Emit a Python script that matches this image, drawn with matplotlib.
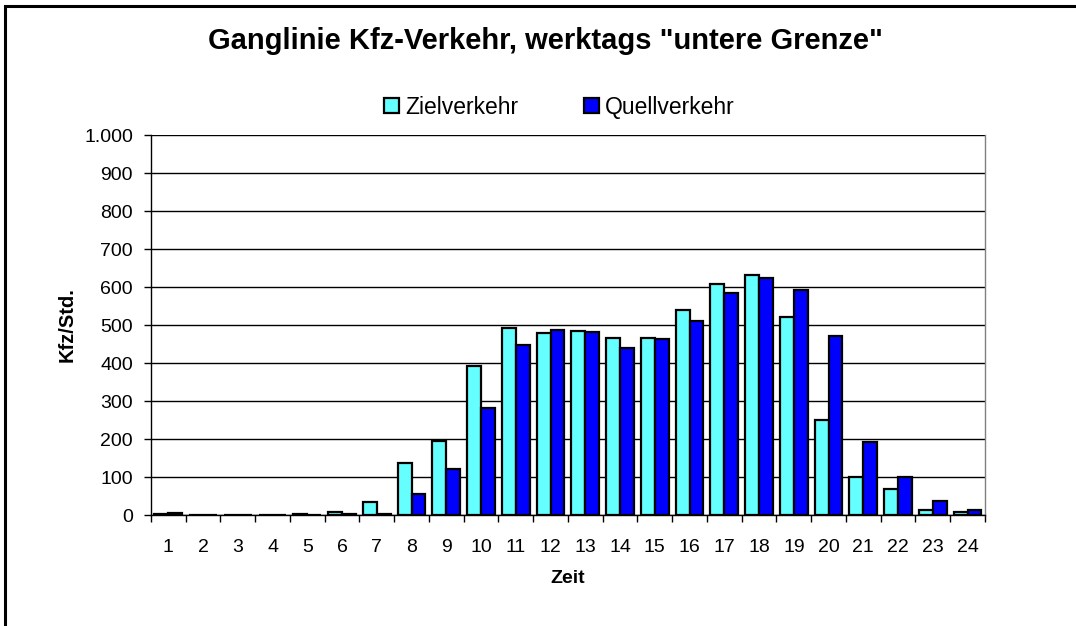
import matplotlib
matplotlib.use("Agg")
import matplotlib.pyplot as plt
from matplotlib.patches import Rectangle
from matplotlib.ticker import FuncFormatter, MultipleLocator
import numpy as np

plt.rcParams['font.family'] = ['Liberation Sans', 'DejaVu Sans']

# Stunden und Werte (Kfz/Std.)
stunden = list(range(1, 25))
zielverkehr = [3, 0, 0, 0, 2, 7, 35, 138, 195, 393, 491, 479,
               484, 467, 467, 539, 609, 631, 520, 249, 101, 69, 13, 9]
quellverkehr = [5, 0, 0, 0, 0, 2, 2, 56, 121, 282, 447, 488,
                481, 439, 463, 511, 585, 623, 591, 471, 191, 101, 36, 13]

titel = 'Ganglinie Kfz-Verkehr, werktags "untere Grenze"'
farbe_ziel = '#66FFFF'
farbe_quell = '#0000FF'

fig = plt.figure(figsize=(10.76, 6.26), dpi=100)
ax = fig.add_axes([0.1403, 0.1773, 0.7751, 0.607])

# Rahmen um die ganze Grafik (rechts/unten abgeschnitten)
fig.patches.append(Rectangle((0.005, -0.05), 1.1, 1.04, transform=fig.transFigure,
                             fill=False, edgecolor='black', linewidth=2.2))

x = np.arange(len(stunden))
w = 0.4
ax.bar(x - w / 2, zielverkehr, w, color=farbe_ziel, edgecolor='black',
       linewidth=1.6, label='Zielverkehr', zorder=3)
ax.bar(x + w / 2, quellverkehr, w, color=farbe_quell, edgecolor='black',
       linewidth=1.6, label='Quellverkehr', zorder=3)

ax.set_xlim(-0.5, len(stunden) - 0.5)
ax.set_ylim(0, 1000)
ax.yaxis.set_major_locator(MultipleLocator(100))
ax.yaxis.set_major_formatter(FuncFormatter(lambda v, p: f'{int(v):,}'.replace(',', '.')))
ax.grid(axis='y', color='black', linewidth=1, zorder=0)

ax.set_xticks(x)
ax.set_xticklabels([str(s) for s in stunden])
ax.set_xticks(np.arange(-0.5, len(stunden)), minor=True)
ax.tick_params(axis='x', which='major', length=0, pad=17, labelsize=14)
ax.tick_params(axis='x', which='minor', length=5, width=1, direction='out')
ax.tick_params(axis='y', length=5, width=1, direction='out', labelsize=14, pad=8)

ax.spines['top'].set_visible(False)
ax.spines['right'].set_color('#808080')
ax.spines['right'].set_linewidth(1)
ax.spines['left'].set_linewidth(1)
ax.spines['bottom'].set_linewidth(1)

ax.set_xlabel('Zeit', fontsize=14, fontweight='bold', labelpad=10)
ax.set_ylabel('Kfz/Std.', fontsize=14.5, fontweight='bold', labelpad=5)

fig.text(0.5065, 0.9345, titel, ha='center', va='center', fontsize=21, fontweight='bold')

leg = fig.legend(loc='center', bbox_to_anchor=(0.520, 0.829), ncol=2, frameon=False,
                 fontsize=16.5, handlelength=0.65, handleheight=0.65, handletextpad=0.26,
                 columnspacing=2.9, borderpad=0)

fig.savefig('out.png', dpi=100)
